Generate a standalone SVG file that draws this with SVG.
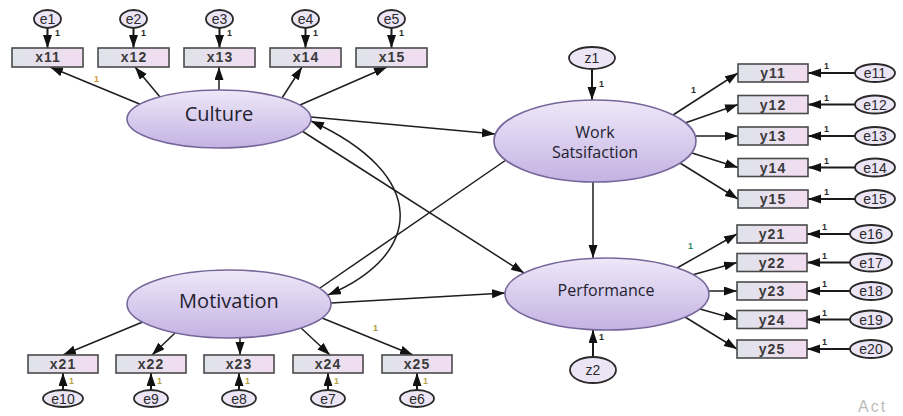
<svg xmlns="http://www.w3.org/2000/svg" width="903" height="416" viewBox="0 0 903 416">
<style>
.lat{stroke:#76679a;stroke-width:1.6}
.box{fill:url(#bg);stroke:#4a4a4a;stroke-width:1.6}
.err{fill:#ece5f5;stroke:#2a2a2a;stroke-width:1.8}
.ln{stroke:#1e1e1e;stroke-width:1.5;fill:none}
.ea{stroke:#1a1a1a;stroke-width:2;fill:none}
.bt{font-family:"Liberation Sans",Arial,sans-serif;font-weight:bold;font-size:14px;fill:#3a3a3a;text-anchor:middle;letter-spacing:1px}
.et{font-family:"Liberation Sans",Arial,sans-serif;font-size:14px;fill:#2a2a2a;text-anchor:middle}
.lt{font-family:"Open Sans","Noto Sans",sans-serif;fill:#22222e;text-anchor:middle}
.one{font-family:"Liberation Sans",Arial,sans-serif;font-weight:bold;font-size:9px;fill:#2a2a2a}
</style>
<defs>
<linearGradient id="lg" x1="0" y1="0" x2="0" y2="1">
<stop offset="0" stop-color="#eee8f8"/>
<stop offset="1" stop-color="#c4b2e3"/>
</linearGradient>
<linearGradient id="bg" x1="0" y1="0" x2="1" y2="0">
<stop offset="0" stop-color="#dfe3ea"/>
<stop offset="1" stop-color="#f2ddf1"/>
</linearGradient>
<marker id="ah" markerUnits="userSpaceOnUse" markerWidth="14" markerHeight="10" refX="13" refY="4.5" orient="auto-start-reverse">
<path d="M0,0 L13,4.5 L0,9 z" fill="#111"/>
</marker>
</defs>

<g id="connectors">
<line class="ea" x1="47.5" y1="28" x2="47.5" y2="48" marker-end="url(#ah)"/>
<line class="ea" x1="133.5" y1="28" x2="133.5" y2="48" marker-end="url(#ah)"/>
<line class="ea" x1="219.5" y1="28" x2="219.5" y2="48" marker-end="url(#ah)"/>
<line class="ea" x1="305.5" y1="28" x2="305.5" y2="48" marker-end="url(#ah)"/>
<line class="ea" x1="391.5" y1="28" x2="391.5" y2="48" marker-end="url(#ah)"/>
<line class="ln" x1="142" y1="105" x2="50" y2="67" marker-end="url(#ah)"/>
<line class="ln" x1="160" y1="97" x2="135" y2="67" marker-end="url(#ah)"/>
<line class="ln" x1="219" y1="92" x2="219" y2="67" marker-end="url(#ah)"/>
<line class="ln" x1="282" y1="98" x2="302" y2="67" marker-end="url(#ah)"/>
<line class="ln" x1="300" y1="105" x2="387" y2="67" marker-end="url(#ah)"/>
<line class="ln" x1="145" y1="321" x2="63" y2="355" marker-end="url(#ah)"/>
<line class="ln" x1="175" y1="333" x2="152" y2="355" marker-end="url(#ah)"/>
<line class="ln" x1="240" y1="337" x2="240" y2="355" marker-end="url(#ah)"/>
<line class="ln" x1="300" y1="327" x2="330" y2="355" marker-end="url(#ah)"/>
<line class="ln" x1="322" y1="318" x2="413" y2="355" marker-end="url(#ah)"/>
<line class="ea" x1="63" y1="390" x2="63" y2="373" marker-end="url(#ah)"/>
<line class="ea" x1="151" y1="390" x2="151" y2="373" marker-end="url(#ah)"/>
<line class="ea" x1="239" y1="390" x2="239" y2="373" marker-end="url(#ah)"/>
<line class="ea" x1="328" y1="390" x2="328" y2="373" marker-end="url(#ah)"/>
<line class="ea" x1="417" y1="390" x2="417" y2="373" marker-end="url(#ah)"/>
<line class="ea" x1="592" y1="69" x2="592" y2="100" marker-end="url(#ah)"/>
<line class="ea" x1="593" y1="357" x2="593" y2="330" marker-end="url(#ah)"/>
<line class="ln" x1="673" y1="115" x2="738" y2="73" marker-end="url(#ah)"/>
<line class="ln" x1="685" y1="123" x2="738" y2="104.5" marker-end="url(#ah)"/>
<line class="ln" x1="696" y1="136" x2="738" y2="136" marker-end="url(#ah)"/>
<line class="ln" x1="692" y1="153" x2="738" y2="167.5" marker-end="url(#ah)"/>
<line class="ln" x1="680" y1="163" x2="738" y2="199" marker-end="url(#ah)"/>
<line class="ln" x1="677" y1="268" x2="737" y2="234" marker-end="url(#ah)"/>
<line class="ln" x1="692" y1="275" x2="737" y2="262.5" marker-end="url(#ah)"/>
<line class="ln" x1="709" y1="291" x2="737" y2="291" marker-end="url(#ah)"/>
<line class="ln" x1="700" y1="309" x2="737" y2="319.5" marker-end="url(#ah)"/>
<line class="ln" x1="685" y1="317" x2="737" y2="349" marker-end="url(#ah)"/>
<line class="ea" x1="855" y1="73" x2="808" y2="73" marker-end="url(#ah)"/>
<line class="ea" x1="855" y1="104.5" x2="808" y2="104.5" marker-end="url(#ah)"/>
<line class="ea" x1="855" y1="136" x2="808" y2="136" marker-end="url(#ah)"/>
<line class="ea" x1="855" y1="167.5" x2="808" y2="167.5" marker-end="url(#ah)"/>
<line class="ea" x1="855" y1="199" x2="808" y2="199" marker-end="url(#ah)"/>
<line class="ea" x1="850" y1="234" x2="807" y2="234" marker-end="url(#ah)"/>
<line class="ea" x1="850" y1="262.5" x2="807" y2="262.5" marker-end="url(#ah)"/>
<line class="ea" x1="850" y1="291" x2="807" y2="291" marker-end="url(#ah)"/>
<line class="ea" x1="850" y1="319.5" x2="807" y2="319.5" marker-end="url(#ah)"/>
<line class="ea" x1="850" y1="349" x2="807" y2="349" marker-end="url(#ah)"/>
<line class="ln" x1="311" y1="117" x2="495" y2="134" marker-end="url(#ah)"/>
<line class="ln" x1="302" y1="131" x2="524" y2="273" marker-end="url(#ah)"/>
<line class="ln" x1="506" y1="160" x2="320" y2="288"/>
<line class="ln" x1="331" y1="303" x2="505" y2="293" marker-end="url(#ah)"/>
<line class="ln" x1="593" y1="182" x2="593" y2="258" marker-end="url(#ah)"/>
<path class="ln" d="M311,121 C430,175 424,255 328,295" marker-start="url(#ah)" marker-end="url(#ah)"/>
<text class="one" x="55" y="36">1</text>
<text class="one" x="141" y="36">1</text>
<text class="one" x="227" y="36">1</text>
<text class="one" x="313" y="36">1</text>
<text class="one" x="399" y="36">1</text>
<text class="one" x="94" y="82" style="fill:#d39a3a">1</text>
<text class="one" x="373" y="331" style="fill:#a89a3a">1</text>
<text class="one" x="69" y="384" style="fill:#b7a444">1</text>
<text class="one" x="157" y="384" style="fill:#b7a444">1</text>
<text class="one" x="245" y="384" style="fill:#b7a444">1</text>
<text class="one" x="334" y="384" style="fill:#b7a444">1</text>
<text class="one" x="423" y="384" style="fill:#b7a444">1</text>
<text class="one" x="599" y="87">1</text>
<text class="one" x="599" y="340">1</text>
<text class="one" x="691" y="93">1</text>
<text class="one" x="688" y="249" style="fill:#2e8a6a">1</text>
<text class="one" x="824" y="69">1</text>
<text class="one" x="824" y="100.5">1</text>
<text class="one" x="824" y="132">1</text>
<text class="one" x="824" y="163.5">1</text>
<text class="one" x="824" y="195">1</text>
<text class="one" x="822" y="230">1</text>
<text class="one" x="822" y="258.5">1</text>
<text class="one" x="822" y="287">1</text>
<text class="one" x="822" y="315.5">1</text>
<text class="one" x="822" y="345">1</text>
</g>

<g id="culture"><ellipse class="lat" cx="219" cy="119" rx="92" ry="29" fill="url(#lg)"/><text class="lt" x="219" y="121" font-size="20">Culture</text></g>
<g id="motivation"><ellipse class="lat" cx="229" cy="304" rx="102" ry="34" fill="url(#lg)"/><text class="lt" x="229" y="308" font-size="20">Motivation</text></g>
<g id="worksat"><ellipse class="lat" cx="595" cy="141" rx="101" ry="41" fill="url(#lg)"/><text class="lt" x="595" y="138" font-size="16">Work</text><text class="lt" x="595" y="158" font-size="16">Satsifaction</text></g>
<g id="performance"><ellipse class="lat" cx="607" cy="294" rx="102" ry="36" fill="url(#lg)"/><text class="lt" x="606" y="296" font-size="16">Performance</text></g>

<g id="z1"><ellipse class="err" cx="592" cy="58" rx="23" ry="11"/><text class="et" x="592" y="63">z1</text></g>
<g id="z2"><ellipse class="err" cx="593" cy="370" rx="23" ry="13"/><text class="et" x="593" y="375">z2</text></g>

<g id="x11"><rect class="box" x="12" y="48" width="71" height="19"/><text class="bt" x="48" y="62">x11</text></g>
<g id="x12"><rect class="box" x="98" y="48" width="71" height="19"/><text class="bt" x="134" y="62">x12</text></g>
<g id="x13"><rect class="box" x="184" y="48" width="71" height="19"/><text class="bt" x="220" y="62">x13</text></g>
<g id="x14"><rect class="box" x="270" y="48" width="71" height="19"/><text class="bt" x="306" y="62">x14</text></g>
<g id="x15"><rect class="box" x="356" y="48" width="71" height="19"/><text class="bt" x="392" y="62">x15</text></g>

<g id="e1"><ellipse class="err" cx="47.5" cy="19" rx="13.5" ry="9"/><text class="et" x="47.5" y="24">e1</text></g>
<g id="e2"><ellipse class="err" cx="133.5" cy="19" rx="13.5" ry="9"/><text class="et" x="133.5" y="24">e2</text></g>
<g id="e3"><ellipse class="err" cx="219.5" cy="19" rx="13.5" ry="9"/><text class="et" x="219.5" y="24">e3</text></g>
<g id="e4"><ellipse class="err" cx="305.5" cy="19" rx="13.5" ry="9"/><text class="et" x="305.5" y="24">e4</text></g>
<g id="e5"><ellipse class="err" cx="391.5" cy="19" rx="13.5" ry="9"/><text class="et" x="391.5" y="24">e5</text></g>

<g id="x21"><rect class="box" x="28" y="355" width="70" height="18"/><text class="bt" x="63" y="369">x21</text></g>
<g id="x22"><rect class="box" x="116" y="355" width="70" height="18"/><text class="bt" x="151" y="369">x22</text></g>
<g id="x23"><rect class="box" x="204" y="355" width="70" height="18"/><text class="bt" x="239" y="369">x23</text></g>
<g id="x24"><rect class="box" x="293" y="355" width="70" height="18"/><text class="bt" x="328" y="369">x24</text></g>
<g id="x25"><rect class="box" x="382" y="355" width="70" height="18"/><text class="bt" x="417" y="369">x25</text></g>

<g id="e10"><ellipse class="err" cx="63" cy="398.5" rx="20" ry="8.5"/><text class="et" x="63" y="403.5">e10</text></g>
<g id="e9"><ellipse class="err" cx="151" cy="398.5" rx="17" ry="8.5"/><text class="et" x="151" y="403.5">e9</text></g>
<g id="e8"><ellipse class="err" cx="239" cy="398.5" rx="17" ry="8.5"/><text class="et" x="239" y="403.5">e8</text></g>
<g id="e7"><ellipse class="err" cx="328" cy="398.5" rx="17" ry="8.5"/><text class="et" x="328" y="403.5">e7</text></g>
<g id="e6"><ellipse class="err" cx="417" cy="398.5" rx="17" ry="8.5"/><text class="et" x="417" y="403.5">e6</text></g>

<g id="y11"><rect class="box" x="738" y="64" width="70" height="18"/><text class="bt" x="773" y="78">y11</text></g>
<g id="y12"><rect class="box" x="738" y="95.5" width="70" height="18"/><text class="bt" x="773" y="109.5">y12</text></g>
<g id="y13"><rect class="box" x="738" y="127" width="70" height="18"/><text class="bt" x="773" y="141">y13</text></g>
<g id="y14"><rect class="box" x="738" y="158.5" width="70" height="18"/><text class="bt" x="773" y="172.5">y14</text></g>
<g id="y15"><rect class="box" x="738" y="190" width="70" height="18"/><text class="bt" x="773" y="204">y15</text></g>

<g id="e11"><ellipse class="err" cx="875" cy="73" rx="20" ry="9"/><text class="et" x="875" y="78">e11</text></g>
<g id="e12"><ellipse class="err" cx="875" cy="104.5" rx="20" ry="9"/><text class="et" x="875" y="109.5">e12</text></g>
<g id="e13"><ellipse class="err" cx="875" cy="136" rx="20" ry="9"/><text class="et" x="875" y="141">e13</text></g>
<g id="e14"><ellipse class="err" cx="875" cy="167.5" rx="20" ry="9"/><text class="et" x="875" y="172.5">e14</text></g>
<g id="e15"><ellipse class="err" cx="875" cy="199" rx="20" ry="9"/><text class="et" x="875" y="204">e15</text></g>

<g id="y21"><rect class="box" x="737" y="225" width="70" height="18"/><text class="bt" x="772" y="239">y21</text></g>
<g id="y22"><rect class="box" x="737" y="253.5" width="70" height="18"/><text class="bt" x="772" y="267.5">y22</text></g>
<g id="y23"><rect class="box" x="737" y="282" width="70" height="18"/><text class="bt" x="772" y="296">y23</text></g>
<g id="y24"><rect class="box" x="737" y="310.5" width="70" height="18"/><text class="bt" x="772" y="324.5">y24</text></g>
<g id="y25"><rect class="box" x="737" y="340" width="70" height="18"/><text class="bt" x="772" y="354">y25</text></g>

<g id="e16"><ellipse class="err" cx="871" cy="234" rx="21" ry="9"/><text class="et" x="871" y="239">e16</text></g>
<g id="e17"><ellipse class="err" cx="871" cy="262.5" rx="21" ry="9"/><text class="et" x="871" y="267.5">e17</text></g>
<g id="e18"><ellipse class="err" cx="871" cy="291" rx="21" ry="9"/><text class="et" x="871" y="296">e18</text></g>
<g id="e19"><ellipse class="err" cx="871" cy="319.5" rx="21" ry="9"/><text class="et" x="871" y="324.5">e19</text></g>
<g id="e20"><ellipse class="err" cx="871" cy="349" rx="21" ry="9"/><text class="et" x="871" y="354">e20</text></g>

<text x="858" y="412" font-family="'Liberation Sans',Arial,sans-serif" font-size="16" fill="#bcbcbc" letter-spacing="2">Act</text>
</svg>
